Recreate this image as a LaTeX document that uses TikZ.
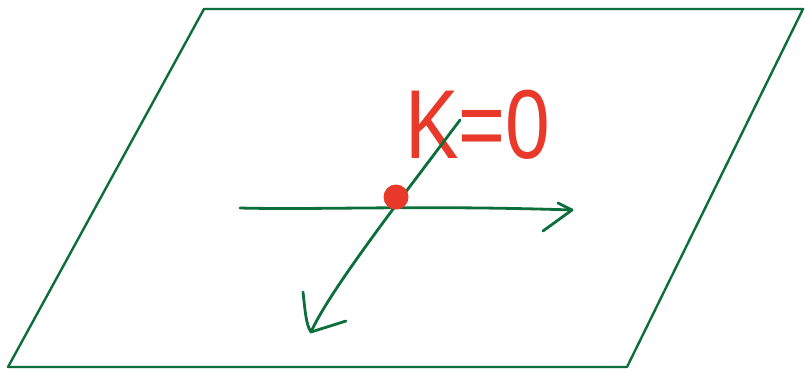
\documentclass[tikz,border=0pt]{standalone}
\usepackage{fontspec}
\setmainfont{Liberation Sans}
\definecolor{pgreen}{HTML}{0B6E3B}
\definecolor{pred}{HTML}{E8392B}
\tikzset{gline/.style={draw=pgreen,line width=2.8pt,line cap=round,line join=round}}
\begin{document}
\begin{tikzpicture}[x=1pt,y=-1pt]
\useasboundingbox (0,0) rectangle (805,370);
\coordinate (p1) at (204,9);
\coordinate (p2) at (803,9);
\coordinate (p3) at (627,367);
\coordinate (p4) at (8,367);
\draw[gline,line width=2.4pt] (p1) -- (p2) -- (p3) -- (p4) -- cycle;
% label
\node[text=pred,anchor=west,inner sep=0pt,xscale=0.82] (lab) at (405,125) {\fontsize{98}{98}\selectfont K=0};
% horizontal axis
\coordinate (hs) at (240,208);
\coordinate (he) at (572,210);
\draw[gline] (hs) .. controls (320,210) and (420,205) .. (he);
\draw[gline] (558,203) -- (he) -- (543,231);
% diagonal axis
\coordinate (ds) at (460,120);
\coordinate (de) at (311,332);
\draw[gline] (ds) .. controls (400,200) and (330,290) .. (de);
\draw[gline] (303,292) .. controls (305,310) and (306,325) .. (de) -- (346,321);
% dot
\node[circle,fill=pred,minimum size=25pt,inner sep=0pt] (dot) at (396,197) {};
\end{tikzpicture}
\end{document}
